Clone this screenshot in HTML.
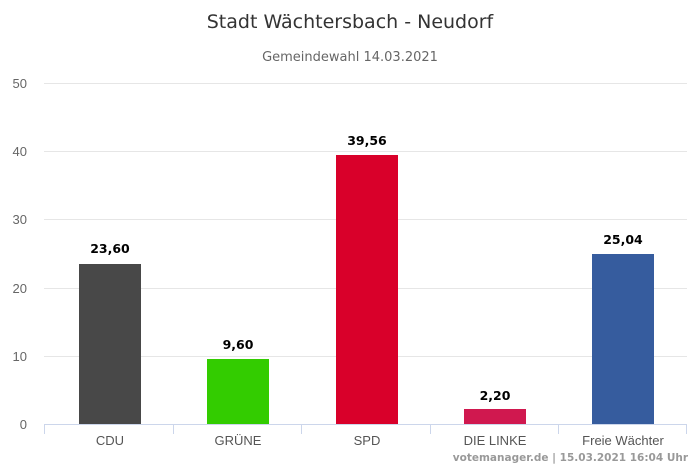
<!DOCTYPE html>
<html><head><meta charset="utf-8"><style>body{margin:0;background:#fff}</style></head><body>
<svg width="700" height="467" xmlns="http://www.w3.org/2000/svg" font-family="Liberation Sans, DejaVu Sans, sans-serif">
<rect width="700" height="467" fill="#fff"/>
<text x="350" y="28" text-anchor="middle" font-size="19" fill="#333" font-family="DejaVu Sans, sans-serif">Stadt Wächtersbach - Neudorf</text>
<text x="350" y="61" text-anchor="middle" font-size="13" fill="#666" font-family="DejaVu Sans, sans-serif">Gemeindewahl 14.03.2021</text>
<g stroke="#e6e6e6" stroke-width="1">
<line x1="44" x2="687" y1="83.5" y2="83.5"/>
<line x1="44" x2="687" y1="151.5" y2="151.5"/>
<line x1="44" x2="687" y1="219.5" y2="219.5"/>
<line x1="44" x2="687" y1="288.5" y2="288.5"/>
<line x1="44" x2="687" y1="356.5" y2="356.5"/>
</g>
<g font-size="13" fill="#666" text-anchor="end">
<text x="27" y="88">50</text><text x="27" y="156">40</text><text x="27" y="224">30</text>
<text x="27" y="293">20</text><text x="27" y="361">10</text><text x="27" y="429">0</text>
</g>
<rect x="79" y="264" width="62" height="160" fill="#484848"/>
<rect x="207" y="359" width="62" height="65" fill="#33cc00"/>
<rect x="336" y="155" width="62" height="269" fill="#d9002a"/>
<rect x="464" y="409" width="62" height="15" fill="#d0184f"/>
<rect x="592" y="254" width="62" height="170" fill="#365c9e"/>
<g font-size="12.5" font-weight="bold" fill="#000" text-anchor="middle" font-family="DejaVu Sans, sans-serif">
<text x="110" y="253">23,60</text><text x="238" y="349">9,60</text><text x="367" y="145">39,56</text>
<text x="495" y="400">2,20</text><text x="623" y="244">25,04</text>
</g>
<g stroke="#ccd6eb" stroke-width="1">
<line x1="44" x2="687" y1="424.5" y2="424.5"/>
<line x1="44.5" x2="44.5" y1="424" y2="434"/><line x1="173.5" x2="173.5" y1="424" y2="434"/>
<line x1="301.5" x2="301.5" y1="424" y2="434"/><line x1="430.5" x2="430.5" y1="424" y2="434"/>
<line x1="558.5" x2="558.5" y1="424" y2="434"/><line x1="686.5" x2="686.5" y1="424" y2="434"/>
</g>
<g font-size="13" fill="#555" text-anchor="middle">
<text x="110" y="445">CDU</text><text x="238" y="445">GRÜNE</text><text x="367" y="445">SPD</text>
<text x="495" y="445">DIE LINKE</text><text x="623" y="445">Freie Wächter</text>
</g>
<text x="688" y="461" text-anchor="end" font-size="10.5" font-weight="bold" fill="#999" font-family="DejaVu Sans, sans-serif">votemanager.de | 15.03.2021 16:04 Uhr</text>
</svg>
</body></html>
